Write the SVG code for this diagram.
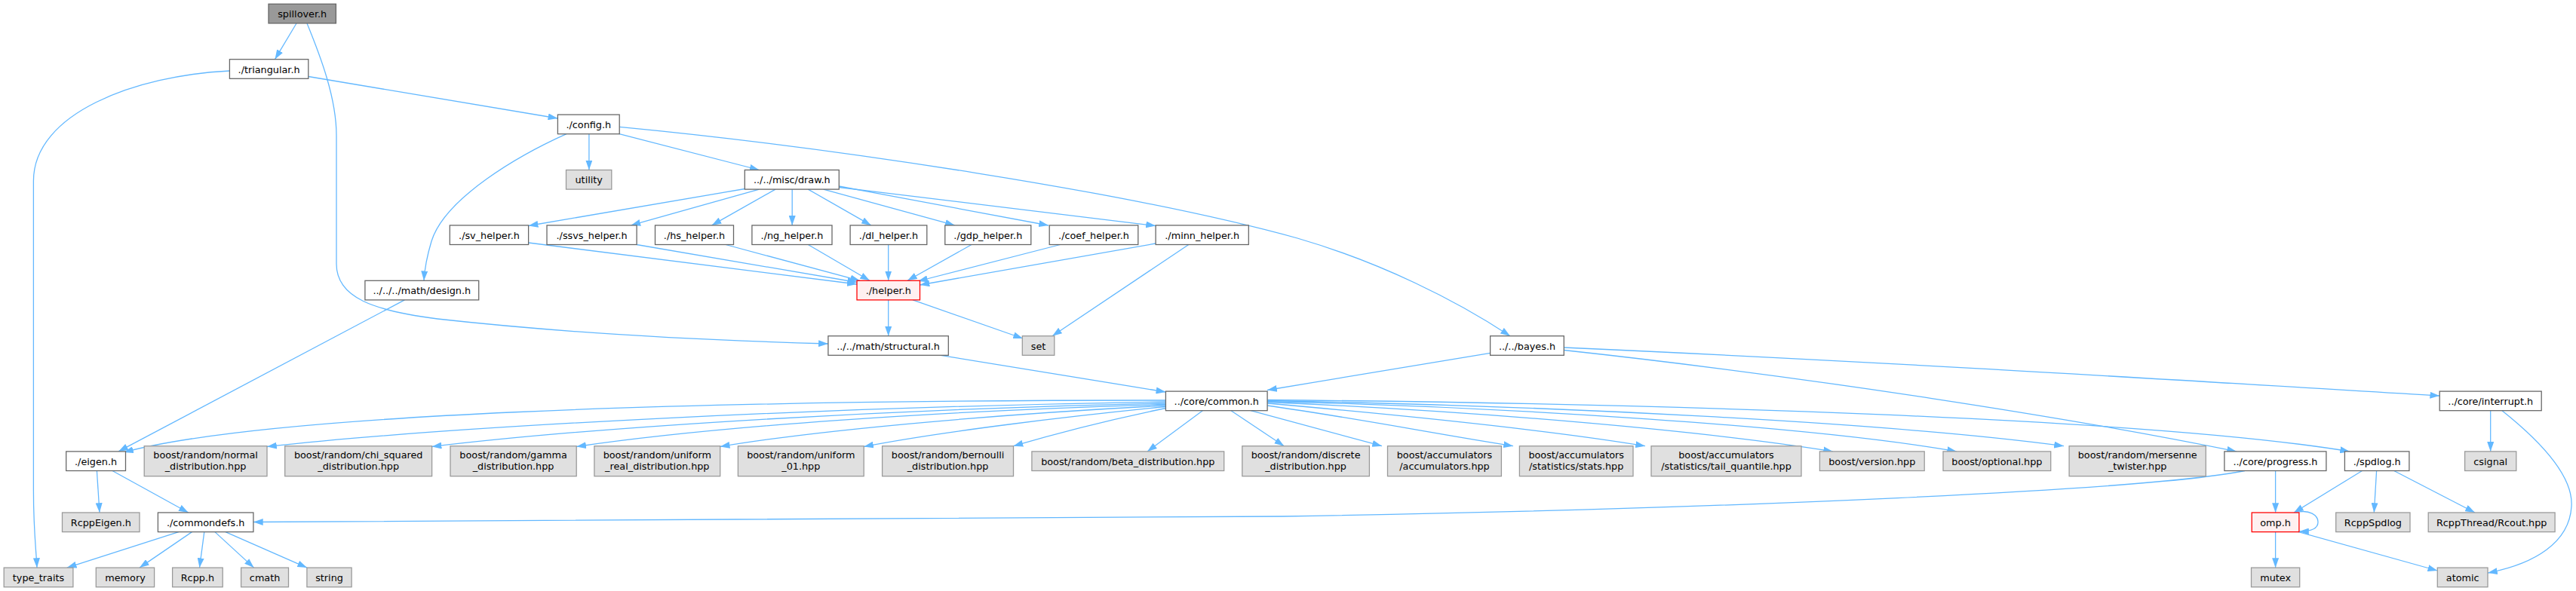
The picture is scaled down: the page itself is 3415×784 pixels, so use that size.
<svg xmlns="http://www.w3.org/2000/svg" width="3415" height="784" viewBox="0 0 3415 784">
<style>
rect{stroke-width:1.28}
.w{fill:#ffffff;stroke:#666666}
.g{fill:#e0e0e0;stroke:#999999}
.r{fill:#fff0f0;stroke:#ff0000}
.root{fill:#999999;stroke:#666666}
text{font-family:"DejaVu Sans","Liberation Sans",sans-serif;font-size:12.8px;text-anchor:middle;fill:#000000}
#edges path{fill:none;stroke:#63b8ff;stroke-width:1.28;marker-end:url(#ah)}
</style>
<defs>
<marker id="ah" viewBox="0 0 12.8 9" markerWidth="12.8" markerHeight="9" refX="12.8" refY="4.5" orient="auto" markerUnits="userSpaceOnUse">
<path d="M0,0 L12.8,4.5 L0,9 z" fill="#63b8ff"/>
</marker>
</defs>
<rect width="3415" height="784" fill="#ffffff"/>
<g id="edges">
<path d="M393,31 L364.5,78.7"/>
<path d="M407,31 C425,75 446,130 446,180 L446,350 C446,395 495,412 580,423 C760,443 950,452 1097.9,456"/>
<path d="M304.4,94 C180,100 44.4,150 44.4,240 L44.4,650 C44.4,705 48,730 49,753.1"/>
<path d="M408.8,101.5 L739.4,157"/>
<path d="M780.9,177.7 L780.9,225.5"/>
<path d="M821,177.7 L1006.5,225.5"/>
<path d="M751,177.7 C690,205 590,262 572,320 C566,340 563,355 562,372.3"/>
<path d="M821.2,168.3 C1100,195 1500,255 1720,316 C1830,348 1930,398 2002,445.7"/>
<path d="M987.3,250.5 L700.6,299.5"/>
<path d="M1006.5,251.1 L836.4,298.9"/>
<path d="M1028,251.1 L943.6,298.9"/>
<path d="M1050.2,251.1 L1050.2,298.9"/>
<path d="M1071.3,251.1 L1154.8,298.9"/>
<path d="M1091.6,251.1 L1265.8,298.9"/>
<path d="M1112.3,247 L1390,299"/>
<path d="M1112.3,248.5 L1532,299.5"/>
<path d="M700.6,322 L1136,377"/>
<path d="M844,324.5 L1136,374.5"/>
<path d="M962,324.5 L1140,372.3"/>
<path d="M1071.3,324.5 L1153,372.3"/>
<path d="M1177.7,324.5 L1177.7,372.3"/>
<path d="M1288,324.5 L1203,372.3"/>
<path d="M1405.6,324.5 L1217,373"/>
<path d="M1532,323 L1219.5,378"/>
<path d="M1575.8,324.5 L1395,445.7"/>
<path d="M1210,397.9 L1356,449"/>
<path d="M1177.7,397.9 L1177.7,445.7"/>
<path d="M1247,471.3 L1545.4,520"/>
<path d="M1975.6,468.3 L1680.1,517.5"/>
<path d="M1545.4,531 C900,531 350,550 164,600"/>
<path d="M1545.4,533 C1100,540 600,565 354,592.5"/>
<path d="M1545.4,535 C1200,542 800,565 572.6,592.5"/>
<path d="M1545.4,536.5 C1250,545 950,565 764.2,592.5"/>
<path d="M1545.4,538 C1350,548 1100,568 954.7,592.5"/>
<path d="M1545.4,539.5 C1420,552 1250,572 1145.2,592.5"/>
<path d="M1545.4,541.5 C1480,555 1400,575 1343.5,591.7"/>
<path d="M1594.3,544.7 L1521,598.9"/>
<path d="M1632,544.7 L1702.3,591.7"/>
<path d="M1658,544.7 L1832,591.7"/>
<path d="M1680.1,538 C1800,555 1900,575 2006,591.7"/>
<path d="M1680.1,535 C1850,550 2050,570 2181,591.7"/>
<path d="M1680.1,533.5 C1950,545 2250,570 2430,598.9"/>
<path d="M1680.1,532.5 C2000,540 2400,565 2594,598.9"/>
<path d="M1680.1,531.5 C2050,538 2500,560 2736,591.7"/>
<path d="M1680.1,530.5 C2200,535 2850,555 3115,598.9"/>
<path d="M2073.3,461 C2500,480 2900,505 3234.2,525"/>
<path d="M2073.3,464.5 C2400,500 2750,555 2965,598.9"/>
<path d="M3301.7,544.7 L3301.7,598.9"/>
<path d="M3317,544.7 C3365,583 3412,630 3409,672 C3406,720 3360,748 3298,760"/>
<path d="M3016.6,624.5 L3016.6,680"/>
<path d="M2976,624.5 C2850,650 2300,675 1700,685 C1200,692 700,692 335.9,692.5"/>
<path d="M3131.5,624.5 L3041,680"/>
<path d="M3150.6,624.5 L3147.3,680"/>
<path d="M3173.7,624.5 L3281,680"/>
<path d="M3043,680 C3062,675 3073,684 3073,692.5 C3073,701 3065,705 3048,705"/>
<path d="M3016.6,705.6 L3016.6,753.1"/>
<path d="M3047,705.6 L3231.3,757"/>
<path d="M128.4,624.5 L132,680"/>
<path d="M149,624.5 L249.7,680"/>
<path d="M536.4,397.9 L157,598.9"/>
<path d="M236.8,705.6 L88.8,753.1"/>
<path d="M254.5,705.6 L185,753.1"/>
<path d="M270.8,705.6 L264.5,753.1"/>
<path d="M284.9,705.6 L336.6,753.1"/>
<path d="M298.9,705.6 L407,753.1"/>
</g>
<g id="n_spillover"><rect class="root" x="356" y="5.3" width="89.4" height="25.6"/><text x="400.7" y="23.1">spillover.h</text></g>
<g id="n_triangular"><rect class="w" x="304.4" y="78.7" width="104.4" height="25.6"/><text x="356.6" y="96.5">./triangular.h</text></g>
<g id="n_config"><rect class="w" x="739.4" y="152.1" width="81.8" height="25.6"/><text x="780.3" y="169.9">./config.h</text></g>
<g id="n_utility"><rect class="g" x="750.5" y="225.5" width="60.3" height="25.6"/><text x="780.7" y="243.3">utility</text></g>
<g id="n_draw"><rect class="w" x="987.3" y="225.5" width="125" height="25.6"/><text x="1049.8" y="243.3">../../misc/draw.h</text></g>
<g id="n_sv"><rect class="w" x="596.3" y="298.9" width="104.3" height="25.6"/><text x="648.5" y="316.7">./sv_helper.h</text></g>
<g id="n_ssvs"><rect class="w" x="725" y="298.9" width="119.1" height="25.6"/><text x="784.6" y="316.7">./ssvs_helper.h</text></g>
<g id="n_hs"><rect class="w" x="868.5" y="298.9" width="104" height="25.6"/><text x="920.5" y="316.7">./hs_helper.h</text></g>
<g id="n_ng"><rect class="w" x="996.9" y="298.9" width="106.1" height="25.6"/><text x="1050" y="316.7">./ng_helper.h</text></g>
<g id="n_dl"><rect class="w" x="1127.1" y="298.9" width="101.7" height="25.6"/><text x="1178" y="316.7">./dl_helper.h</text></g>
<g id="n_gdp"><rect class="w" x="1252.8" y="298.9" width="114" height="25.6"/><text x="1309.8" y="316.7">./gdp_helper.h</text></g>
<g id="n_coef"><rect class="w" x="1391.2" y="298.9" width="117.6" height="25.6"/><text x="1450" y="316.7">./coef_helper.h</text></g>
<g id="n_minn"><rect class="w" x="1532.1" y="298.9" width="123.2" height="25.6"/><text x="1593.7" y="316.7">./minn_helper.h</text></g>
<g id="n_design"><rect class="w" x="483.9" y="372.3" width="150.8" height="25.6"/><text x="559.3" y="390.1">../../../math/design.h</text></g>
<g id="n_helper"><rect class="r" x="1136" y="372.3" width="83.5" height="25.6"/><text x="1177.8" y="390.1">./helper.h</text></g>
<g id="n_structural"><rect class="w" x="1097.9" y="445.7" width="159.4" height="25.6"/><text x="1177.6" y="463.5">../../math/structural.h</text></g>
<g id="n_set"><rect class="g" x="1355.3" y="445.7" width="42.5" height="25.6"/><text x="1376.6" y="463.5">set</text></g>
<g id="n_bayes"><rect class="w" x="1975.6" y="445.7" width="97.7" height="25.6"/><text x="2024.5" y="463.5">../../bayes.h</text></g>
<g id="n_common"><rect class="w" x="1545.4" y="519.1" width="134.7" height="25.6"/><text x="1612.8" y="536.9">../core/common.h</text></g>
<g id="n_interrupt"><rect class="w" x="3234.2" y="519.1" width="135" height="25.6"/><text x="3301.7" y="536.9">../core/interrupt.h</text></g>
<g id="n_eigen"><rect class="w" x="87.7" y="598.9" width="78.8" height="25.6"/><text x="127.1" y="616.7">./eigen.h</text></g>
<g id="n_normal"><rect class="g" x="191.2" y="591.7" width="162.8" height="40"/><text x="272.6" y="607.7">boost/random/normal</text><text x="272.6" y="622.5">_distribution.hpp</text></g>
<g id="n_chi"><rect class="g" x="377.7" y="591.7" width="194.9" height="40"/><text x="475.2" y="607.7">boost/random/chi_squared</text><text x="475.2" y="622.5">_distribution.hpp</text></g>
<g id="n_gamma"><rect class="g" x="597" y="591.7" width="167.2" height="40"/><text x="680.6" y="607.7">boost/random/gamma</text><text x="680.6" y="622.5">_distribution.hpp</text></g>
<g id="n_ureal"><rect class="g" x="787.9" y="591.7" width="166.8" height="40"/><text x="871.3" y="607.7">boost/random/uniform</text><text x="871.3" y="622.5">_real_distribution.hpp</text></g>
<g id="n_u01"><rect class="g" x="978.4" y="591.7" width="166.8" height="40"/><text x="1061.8" y="607.7">boost/random/uniform</text><text x="1061.8" y="622.5">_01.hpp</text></g>
<g id="n_bern"><rect class="g" x="1169.6" y="591.7" width="173.9" height="40"/><text x="1256.6" y="607.7">boost/random/bernoulli</text><text x="1256.6" y="622.5">_distribution.hpp</text></g>
<g id="n_beta"><rect class="g" x="1367.9" y="598.9" width="254.8" height="25.6"/><text x="1495.3" y="616.7">boost/random/beta_distribution.hpp</text></g>
<g id="n_discrete"><rect class="g" x="1646.8" y="591.7" width="168.6" height="40"/><text x="1731.1" y="607.7">boost/random/discrete</text><text x="1731.1" y="622.5">_distribution.hpp</text></g>
<g id="n_accum"><rect class="g" x="1839.5" y="591.7" width="150.9" height="40"/><text x="1915" y="607.7">boost/accumulators</text><text x="1915" y="622.5">/accumulators.hpp</text></g>
<g id="n_stats"><rect class="g" x="2014.4" y="591.7" width="150.6" height="40"/><text x="2089.7" y="607.7">boost/accumulators</text><text x="2089.7" y="622.5">/statistics/stats.hpp</text></g>
<g id="n_tail"><rect class="g" x="2189" y="591.7" width="199" height="40"/><text x="2288.5" y="607.7">boost/accumulators</text><text x="2288.5" y="622.5">/statistics/tail_quantile.hpp</text></g>
<g id="n_version"><rect class="g" x="2412.4" y="598.9" width="138.8" height="25.6"/><text x="2481.8" y="616.7">boost/version.hpp</text></g>
<g id="n_optional"><rect class="g" x="2576" y="598.9" width="142.7" height="25.6"/><text x="2647.4" y="616.7">boost/optional.hpp</text></g>
<g id="n_mersenne"><rect class="g" x="2743.1" y="591.7" width="181.2" height="40"/><text x="2833.7" y="607.7">boost/random/mersenne</text><text x="2833.7" y="622.5">_twister.hpp</text></g>
<g id="n_progress"><rect class="w" x="2948.9" y="598.9" width="135" height="25.6"/><text x="3016.4" y="616.7">../core/progress.h</text></g>
<g id="n_spdlog"><rect class="w" x="3108.4" y="598.9" width="85.5" height="25.6"/><text x="3151.2" y="616.7">./spdlog.h</text></g>
<g id="n_csignal"><rect class="g" x="3267.6" y="598.9" width="68.2" height="25.6"/><text x="3301.7" y="616.7">csignal</text></g>
<g id="n_rcppeigen"><rect class="g" x="82.5" y="680" width="102.5" height="25.6"/><text x="133.8" y="697.8">RcppEigen.h</text></g>
<g id="n_commondefs"><rect class="w" x="209.4" y="680" width="126.5" height="25.6"/><text x="272.7" y="697.8">./commondefs.h</text></g>
<g id="n_omp"><rect class="r" x="2985.2" y="680" width="62.7" height="25.6"/><text x="3016.6" y="697.8">omp.h</text></g>
<g id="n_rcppspdlog"><rect class="g" x="3096.7" y="680" width="98.3" height="25.6"/><text x="3145.9" y="697.8">RcppSpdlog</text></g>
<g id="n_rcout"><rect class="g" x="3219.2" y="680" width="167.9" height="25.6"/><text x="3303.2" y="697.8">RcppThread/Rcout.hpp</text></g>
<g id="n_type_traits"><rect class="g" x="5.2" y="753.1" width="91.7" height="25.6"/><text x="51" y="770.9">type_traits</text></g>
<g id="n_memory"><rect class="g" x="127.3" y="753.1" width="77.3" height="25.6"/><text x="166" y="770.9">memory</text></g>
<g id="n_rcpp"><rect class="g" x="228.6" y="753.1" width="66.6" height="25.6"/><text x="261.9" y="770.9">Rcpp.h</text></g>
<g id="n_cmath"><rect class="g" x="319.6" y="753.1" width="62.9" height="25.6"/><text x="351.1" y="770.9">cmath</text></g>
<g id="n_string"><rect class="g" x="406.9" y="753.1" width="59.2" height="25.6"/><text x="436.5" y="770.9">string</text></g>
<g id="n_mutex"><rect class="g" x="2984.5" y="753.1" width="64.2" height="25.6"/><text x="3016.6" y="770.9">mutex</text></g>
<g id="n_atomic"><rect class="g" x="3231.3" y="753.1" width="66.7" height="25.6"/><text x="3264.7" y="770.9">atomic</text></g>
</svg>
